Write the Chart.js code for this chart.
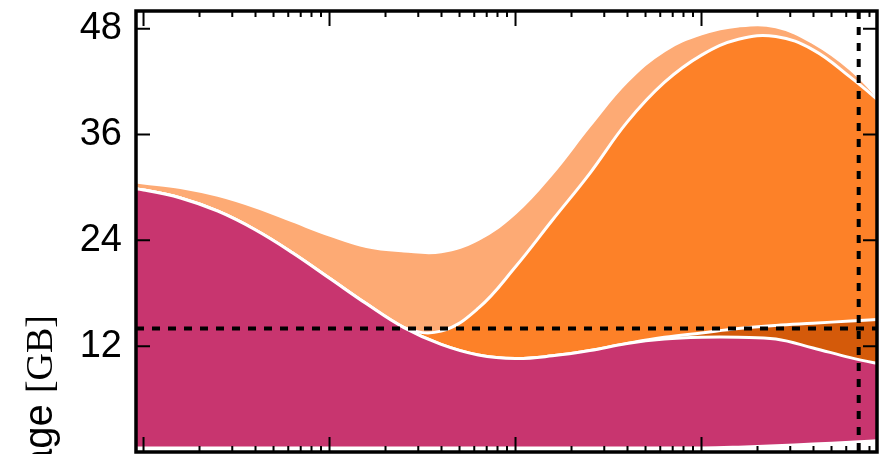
<!DOCTYPE html>
<html><head><meta charset="utf-8">
<script src="https://cdn.jsdelivr.net/npm/chart.js@4/dist/chart.umd.min.js"></script>
<style>html,body{margin:0;padding:0;background:#fff;overflow:hidden}#wrap{width:885px;height:454px;position:relative}</style>
</head><body><div id="wrap"><canvas id="c"></canvas></div>
<script>
const xValues = [0.63, 1, 1.58, 2.51, 3.98, 6.31, 10, 15.8, 25.1, 39.8, 63.1, 100, 158, 251, 398, 631, 1000, 1580, 2510, 3980, 6310, 10000];
const baseWhite = [0.45,0.45,0.45,0.45,0.45,0.45,0.45,0.45,0.45,0.45,0.45,0.45,0.45,0.45,0.45,0.45,0.45,0.55,0.7,0.9,1.1,1.35];
const magenta = [29.85,29.25,28.35,26.85,24.75,22.15,19.25,16.35,13.65,11.75,10.55,10.15,10.45,11.05,11.85,12.35,12.55,12.45,12.1,10.9,9.6,8.45];
const darkOrange = [0,0,0,0,0,0,0,0,0,0,0,0,0,0,0,0.2,0.5,1.0,1.55,2.8,4.15,5.3];
const orange = [0,0,0,0,0,0,0,0,0,1.5,5.3,10.4,15.4,20.1,25.1,28.9,31.5,32.8,32.75,31.0,27.65,23.9];
const lightOrange = [0.7,0.8,1.2,1.8,2.6,3.6,4.9,6.5,8.7,9.0,7.8,6.1,5.3,5.4,4.6,3.6,2.4,1.5,1.1,0.8,0.9,0.1];

const yTickValues = [12, 24, 36, 48];
const xDecades = [1, 10, 100, 1000];
const refY = 14;
const refX = 7000;
const yTitleMain = 'Memory usage ';
const yTitleUnit = '[GB]';

const pts = arr => xValues.map((x, i) => ({x: x, y: arr[i]}));
const layer = (label, arr, color, fill) => ({
  label, data: pts(arr), backgroundColor: color, borderColor: '#ffffff',
  borderWidth: 3, fill, pointRadius: 0, tension: 0.4
});

const decor = {
  id: 'decor',
  afterDatasetsDraw(chart) {
    const {ctx, chartArea: a, scales: {x, y}} = chart;
    ctx.save();
    ctx.beginPath();
    ctx.rect(a.left, a.top, a.right - a.left, a.bottom - a.top);
    ctx.clip();
    ctx.strokeStyle = '#000';
    ctx.lineWidth = 4;
    ctx.setLineDash([8, 8]);
    const py = y.getPixelForValue(refY);
    ctx.beginPath(); ctx.moveTo(a.left, py); ctx.lineTo(a.right, py); ctx.stroke();
    const px = x.getPixelForValue(refX);
    ctx.beginPath(); ctx.moveTo(px, a.top); ctx.lineTo(px, a.bottom); ctx.stroke();
    ctx.restore();
  },
  afterDraw(chart) {
    const {ctx, chartArea: a, scales: {x, y}} = chart;
    ctx.save();
    ctx.strokeStyle = '#000';
    ctx.lineWidth = 2;
    ctx.setLineDash([]);
    xDecades.forEach(d => {
      for (let m = 1; m <= 9; m++) {
        const v = d * m;
        if (v < x.min || v > x.max) continue;
        const p = x.getPixelForValue(v);
        const len = m === 1 ? 15 : 6;
        ctx.beginPath();
        ctx.moveTo(p, a.top); ctx.lineTo(p, a.top + len);
        ctx.moveTo(p, a.bottom); ctx.lineTo(p, a.bottom - len);
        ctx.stroke();
      }
    });
    yTickValues.forEach(v => {
      const p = y.getPixelForValue(v);
      ctx.beginPath();
      ctx.moveTo(a.left, p); ctx.lineTo(a.left + 14, p);
      ctx.moveTo(a.right, p); ctx.lineTo(a.right - 14, p);
      ctx.stroke();
    });
    ctx.lineWidth = 3.5;
    ctx.strokeRect(a.left, a.top, a.right - a.left, a.bottom - a.top);
    ctx.translate(52, 315);
    ctx.rotate(-Math.PI / 2);
    ctx.fillStyle = '#000';
    ctx.textBaseline = 'alphabetic';
    ctx.textAlign = 'right';
    ctx.font = '38px "Liberation Serif"';
    ctx.fillText(yTitleUnit, 0, 0);
    const w = ctx.measureText(yTitleUnit).width;
    ctx.font = '40px "Liberation Sans"';
    ctx.fillText(yTitleMain, -w, 0);
    ctx.restore();
  }
};

new Chart(document.getElementById('c'), {
  type: 'line',
  data: {
    datasets: [
      layer('base', baseWhite, '#ffffff', 'origin'),
      layer('magenta', magenta, '#C8356F', '-1'),
      layer('darkOrange', darkOrange, '#D45A0A', '-1'),
      layer('orange', orange, '#FD8128', '-1'),
      layer('lightOrange', lightOrange, '#FDAA74', '-1')
    ]
  },
  options: {
    responsive: true,
    maintainAspectRatio: false,
    animation: false,
    layout: {padding: {left: 0, right: 8, top: 11, bottom: 2}},
    plugins: {legend: {display: false}, tooltip: {enabled: false}},
    scales: {
      x: {type: 'logarithmic', min: 0.911, max: 8780, display: false},
      y: {
        type: 'linear', min: 0, max: 50, stacked: true,
        grid: {display: false, drawTicks: false},
        border: {display: false},
        afterBuildTicks: s => { s.ticks = yTickValues.map(v => ({value: v})); },
        afterFit: s => { s.width = 136; s.paddingTop = 0; s.paddingBottom = 0; },
        ticks: {color: '#000', padding: 14, font: {family: 'Liberation Sans', size: 38}}
      }
    }
  },
  plugins: [decor]
});
</script></body></html>
